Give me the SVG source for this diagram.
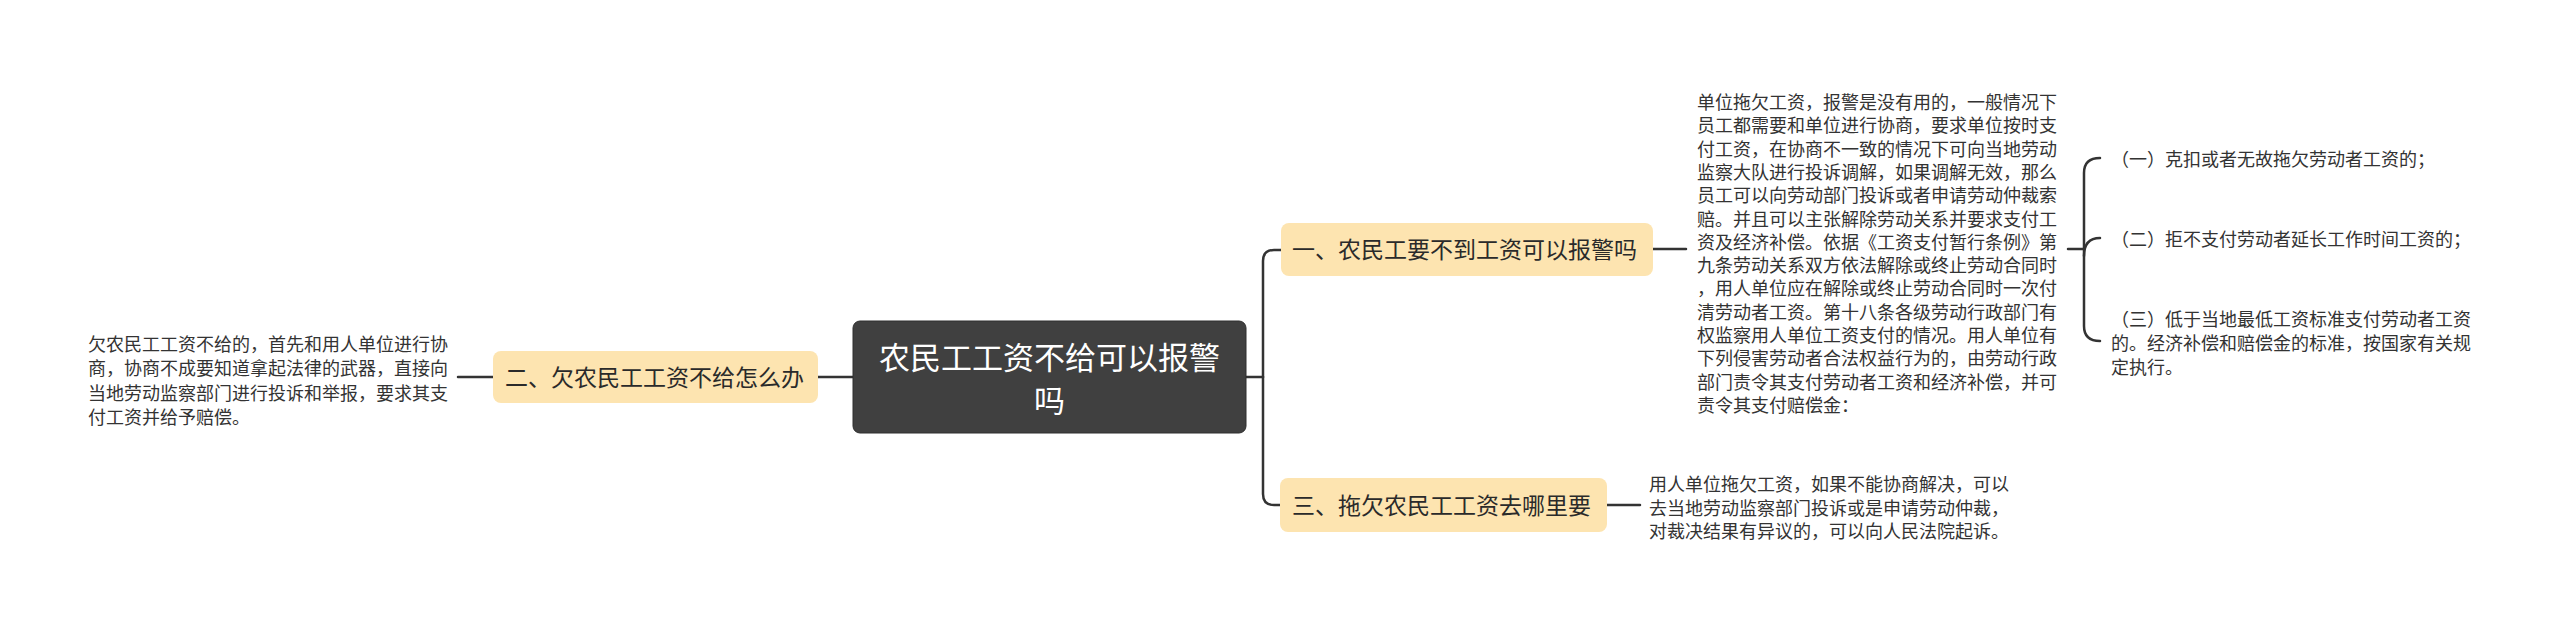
<svg xmlns="http://www.w3.org/2000/svg" width="2560" height="627" viewBox="0 0 2560 627">
<style>
.bg{fill:#ffffff}
.conn{fill:none;stroke:#333333;stroke-width:2.5;stroke-linecap:round;stroke-linejoin:round}
.topic{fill:#fde4b0}
.root{fill:#404040;stroke:#2e2e2e;stroke-width:1}
.t{font-family:"Noto Sans CJK SC","Noto Sans",sans-serif;fill:#333333}
.body{font-size:18px}
.tl{font-size:23px;fill:#2a2a2a}
.rt{font-size:31px;fill:#ffffff}
</style>
<rect class="bg" x="0" y="0" width="2560" height="627"/>
<g id="connectors">
<path class="conn" d="M1246,377 H1263"/>
<path class="conn" d="M1263,377 V261 Q1263,250 1274,250 H1281"/>
<path class="conn" d="M1263,377 V494 Q1263,505 1274,505 H1280"/>
<path class="conn" d="M818,377 H853"/>
<path class="conn" d="M458,377 H493"/>
<path class="conn" d="M1653,249 H1686"/>
<path class="conn" d="M1607,505 H1640"/>
<path class="conn" d="M2068,249 H2084"/>
<path class="conn" d="M2084,249 V173 Q2084,158 2100,158"/>
<path class="conn" d="M2084,256 Q2084,238 2100,238"/>
<path class="conn" d="M2084,249 V326 Q2084,341 2100,341"/>
</g>
<g id="root">
<rect class="root" x="853" y="321" width="393" height="112" rx="7"/>
<text class="t rt" x="1049.5" y="369" text-anchor="middle">农民工工资不给可以报警</text>
<text class="t rt" x="1049.5" y="412" text-anchor="middle">吗</text>
</g>
<g id="node1">
<rect class="topic" x="1281" y="223" width="372" height="53" rx="8"/>
<text class="t tl" x="1292" y="258">一、农民工要不到工资可以报警吗</text>
</g>
<g id="node2">
<rect class="topic" x="493" y="351" width="325" height="52" rx="8"/>
<text class="t tl" x="505" y="386">二、欠农民工工资不给怎么办</text>
</g>
<g id="node3">
<rect class="topic" x="1280" y="478" width="327" height="54" rx="8"/>
<text class="t tl" x="1292" y="514">三、拖欠农民工工资去哪里要</text>
</g>
<g id="text1">
<text class="t body" x="1697">
<tspan x="1697" y="109">单位拖欠工资，报警是没有用的，一般情况下</tspan>
<tspan x="1697" y="132.3">员工都需要和单位进行协商，要求单位按时支</tspan>
<tspan x="1697" y="155.6">付工资，在协商不一致的情况下可向当地劳动</tspan>
<tspan x="1697" y="178.9">监察大队进行投诉调解，如果调解无效，那么</tspan>
<tspan x="1697" y="202.2">员工可以向劳动部门投诉或者申请劳动仲裁索</tspan>
<tspan x="1697" y="225.5">赔。并且可以主张解除劳动关系并要求支付工</tspan>
<tspan x="1697" y="248.8">资及经济补偿。依据《工资支付暂行条例》第</tspan>
<tspan x="1697" y="272.1">九条劳动关系双方依法解除或终止劳动合同时</tspan>
<tspan x="1697" y="295.4">，用人单位应在解除或终止劳动合同时一次付</tspan>
<tspan x="1697" y="318.7">清劳动者工资。第十八条各级劳动行政部门有</tspan>
<tspan x="1697" y="342">权监察用人单位工资支付的情况。用人单位有</tspan>
<tspan x="1697" y="365.3">下列侵害劳动者合法权益行为的，由劳动行政</tspan>
<tspan x="1697" y="388.6">部门责令其支付劳动者工资和经济补偿，并可</tspan>
<tspan x="1697" y="411.9">责令其支付赔偿金：</tspan>
</text>
</g>
<g id="item1">
<text class="t body" x="2111" y="166">（一）克扣或者无故拖欠劳动者工资的；</text>
</g>
<g id="item2">
<text class="t body" x="2111" y="246">（二）拒不支付劳动者延长工作时间工资的；</text>
</g>
<g id="item3">
<text class="t body" x="2111">
<tspan x="2111" y="326">（三）低于当地最低工资标准支付劳动者工资</tspan>
<tspan x="2111" y="350">的。经济补偿和赔偿金的标准，按国家有关规</tspan>
<tspan x="2111" y="374">定执行。</tspan>
</text>
</g>
<g id="text2">
<text class="t body" x="88">
<tspan x="88" y="351">欠农民工工资不给的，首先和用人单位进行协</tspan>
<tspan x="88" y="375">商，协商不成要知道拿起法律的武器，直接向</tspan>
<tspan x="88" y="399.5">当地劳动监察部门进行投诉和举报，要求其支</tspan>
<tspan x="88" y="424">付工资并给予赔偿。</tspan>
</text>
</g>
<g id="text3">
<text class="t body" x="1649">
<tspan x="1649" y="491">用人单位拖欠工资，如果不能协商解决，可以</tspan>
<tspan x="1649" y="514.5">去当地劳动监察部门投诉或是申请劳动仲裁，</tspan>
<tspan x="1649" y="538">对裁决结果有异议的，可以向人民法院起诉。</tspan>
</text>
</g>
</svg>
